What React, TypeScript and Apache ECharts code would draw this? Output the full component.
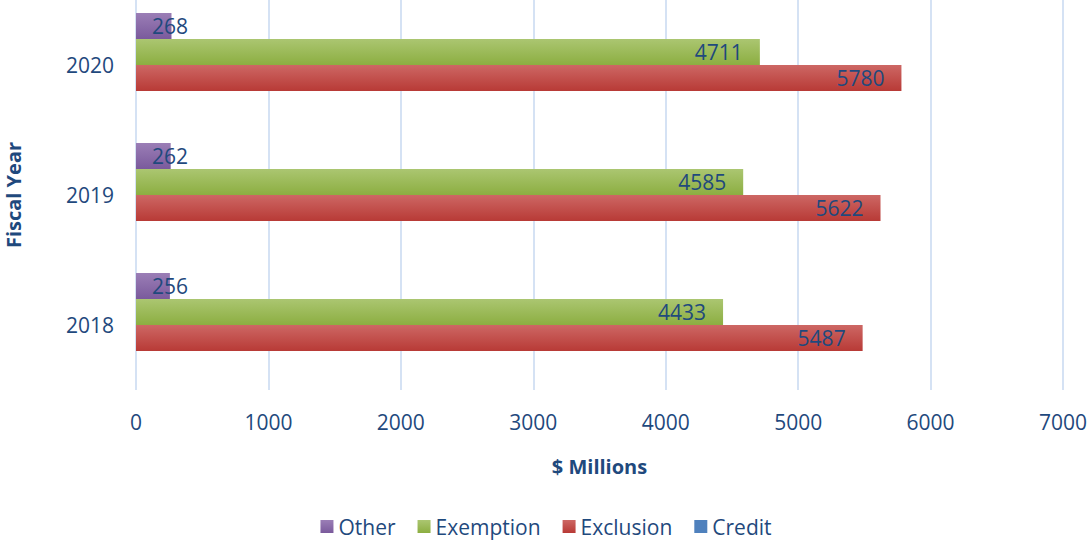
import React, { useEffect, useRef } from "react";
import * as echarts from "echarts";

const years = ["2018", "2019", "2020"];
const credit = [0, 0, 0];
const exclusion = [5487, 5622, 5780];
const exemption = [4433, 4585, 4711];
const other = [256, 262, 268];
const legendOrder = ["Other", "Exemption", "Exclusion", "Credit"];

const FONT = "Open Sans";
const TEXT = "#1F497D";

function grad(top: string, bottom: string) {
  return new echarts.graphic.LinearGradient(0, 0, 0, 1, [
    { offset: 0, color: top },
    { offset: 1, color: bottom },
  ]);
}

export default function App() {
  const ref = useRef<HTMLDivElement>(null);
  useEffect(() => {
    document.body.style.margin = "0";
    const chart = echarts.init(ref.current!, null, { renderer: "svg" });
    const labelBase = {
      show: true,
      color: TEXT,
      fontFamily: FONT,
      fontSize: 21,
    };
    chart.setOption({
      animation: false,
      textStyle: { fontFamily: FONT },
      grid: {
        left: 136,
        right: 29,
        top: 0,
        bottom: 153,
        containLabel: false,
        outerBoundsMode: "none",
      },
      legend: {
        data: legendOrder,
        bottom: 1,
        left: "center",
        itemWidth: 13,
        itemHeight: 13,
        itemGap: 22,
        icon: "rect",
        textStyle: { color: TEXT, fontFamily: FONT, fontSize: 21 },
      },
      xAxis: {
        type: "value",
        min: 0,
        max: 7000,
        interval: 1000,
        name: "$ Millions",
        nameLocation: "middle",
        nameGap: 66,
        nameTextStyle: { color: TEXT, fontFamily: FONT, fontSize: 20, fontWeight: "bold" },
        axisLine: { show: false },
        axisTick: { show: false },
        axisLabel: {
          color: TEXT,
          fontFamily: FONT,
          fontSize: 21,
          margin: 21,
          formatter: (v: number) => String(v),
        },
        splitLine: { show: true, lineStyle: { color: "#D5E2F4", width: 2 } },
      },
      yAxis: {
        type: "category",
        data: years,
        name: "Fiscal Year",
        nameLocation: "middle",
        nameGap: 113,
        nameRotate: 90,
        nameTextStyle: { color: TEXT, fontFamily: FONT, fontSize: 20, fontWeight: "bold" },
        axisLine: { show: false },
        axisTick: { show: false },
        axisLabel: { color: TEXT, fontFamily: FONT, fontSize: 21, margin: 22 },
      },
      series: [
        {
          name: "Other",
          type: "bar",
          data: other,
          barWidth: 26,
          barGap: "0%",
          itemStyle: { color: grad("#9B7EB6", "#7A5A9C") },
          label: { ...labelBase, position: "insideLeft", offset: [11, 0] },
        },
        {
          name: "Exemption",
          type: "bar",
          data: exemption,
          barWidth: 26,
          barGap: "0%",
          itemStyle: { color: grad("#ABC671", "#8CAE41") },
          label: { ...labelBase, position: "insideRight", offset: [-12, 0] },
        },
        {
          name: "Exclusion",
          type: "bar",
          data: exclusion,
          barWidth: 26,
          barGap: "0%",
          itemStyle: { color: grad("#CD6764", "#B83A36") },
          label: { ...labelBase, position: "insideRight", offset: [-12, 0] },
        },
        {
          name: "Credit",
          type: "bar",
          data: credit,
          barWidth: 26,
          barGap: "0%",
          itemStyle: { color: "#4F81BD" },
          label: { show: false },
        },
      ],
    });
    return () => chart.dispose();
  }, []);
  return <div ref={ref} style={{ width: 1092, height: 543 }} />;
}
